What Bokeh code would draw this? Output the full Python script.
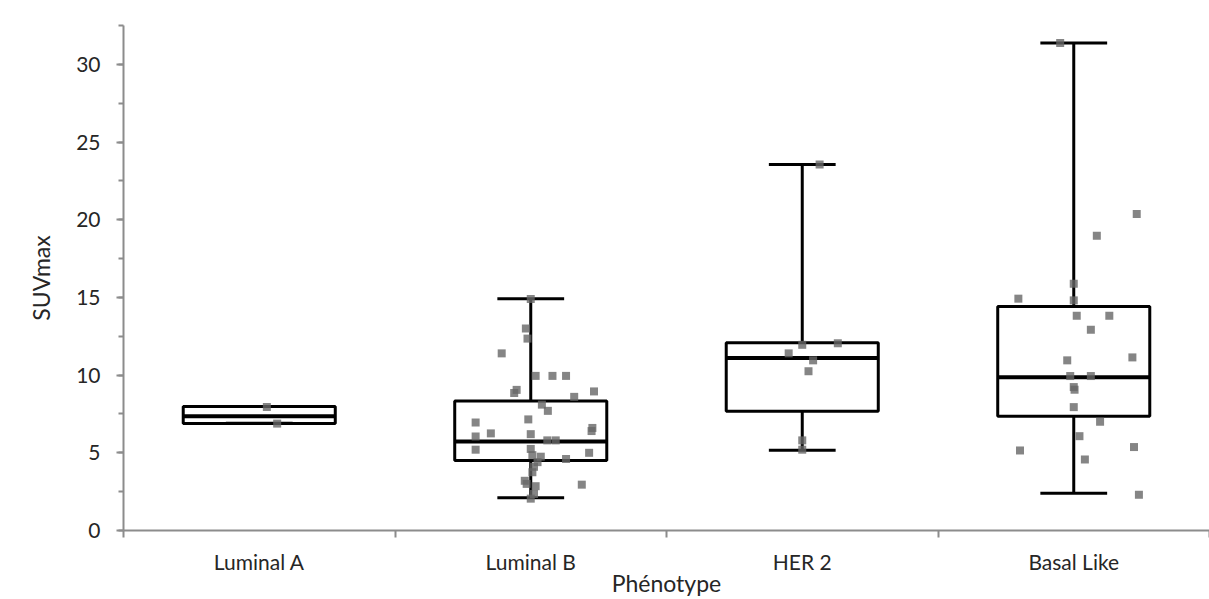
from bokeh.plotting import figure
from bokeh.models import (ColumnDataSource, Range1d, LinearAxis, SingleIntervalTicker,
                          FixedTicker, CustomJSTickFormatter)
from bokeh.transform import dodge
from bokeh.embed import file_html
from bokeh.resources import INLINE

# ---------------- data ----------------
categories = ["Luminal A", "Luminal B", "HER 2", "Basal Like"]
box_min = [6.9, 2.1, 5.17, 2.4]
box_q1 = [6.88, 4.5, 7.68, 7.36]
box_median = [7.35, 5.73, 11.1, 9.87]
box_q3 = [7.98, 8.33, 12.09, 14.42]
box_max = [7.98, 14.92, 23.55, 31.38]

lumA_values = [7.95, 6.88]
lumA_jitter = [0.028, 0.066]

lumB_values = [14.9, 13.0, 12.35, 11.4, 9.95, 9.95, 9.95, 9.05, 8.85, 8.6,
               8.95, 8.1, 7.7, 7.15, 6.95, 6.6, 6.4, 6.25, 6.05, 6.2,
               5.8, 5.8, 5.2, 5.0, 5.25, 4.85, 4.75, 4.6, 4.4, 4.1,
               3.75, 3.2, 3.0, 2.85, 2.95, 2.35, 2.05]
lumB_jitter = [0.0, -0.018, -0.012, -0.107, 0.018, 0.080, 0.130, -0.052, -0.061, 0.160,
               0.233, 0.041, 0.063, -0.009, -0.203, 0.227, 0.224, -0.147, -0.203, 0.0,
               0.061, 0.092, -0.203, 0.215, 0.0, 0.006, 0.037, 0.130, 0.025, 0.012,
               0.006, -0.022, -0.015, 0.018, 0.188, 0.012, 0.0]

her2_values = [23.55, 11.95, 12.05, 11.4, 10.95, 10.25, 5.8, 5.2]
her2_jitter = [0.064, 0.0, 0.131, -0.05, 0.04, 0.023, 0.0, 0.0]

basal_values = [31.38, 20.37, 18.97, 15.88, 14.92, 14.81, 13.82, 13.82, 12.92, 10.95,
                11.14, 9.94, 9.94, 9.23, 9.06, 7.94, 7.0, 6.07, 5.15, 5.37,
                4.57, 2.3]
basal_jitter = [-0.05, 0.232, 0.085, 0.0, -0.204, 0.0, 0.011, 0.131, 0.063, -0.024,
                0.216, -0.013, 0.063, 0.0, 0.003, 0.0, 0.097, 0.021, -0.198, 0.222,
                0.041, 0.24]

y_ticks_interval = 5
y_max = 32.5

# ---------------- styles ----------------
FONT = "Lato"
TEXT = "#262626"
AXIS = "#8c8c8c"
LABEL_SIZE = "21px"
TITLE_SIZE = "23px"
BOX_W = 0.56
CAP_W = 0.246

n = len(categories)
cat_pos = [i + 0.5 for i in range(n)]          # centre of each category slot

p = figure(width=1209, height=599,
           x_range=Range1d(0, n), y_range=Range1d(0, y_max),
           x_axis_location=None, y_axis_location="left",
           toolbar_location=None, output_backend="svg",
           min_border_left=123, min_border_top=25, min_border_right=0,
           min_border_bottom=69)
p.grid.visible = False
p.outline_line_color = None
p.background_fill_color = "white"
p.border_fill_color = "white"

# y axis
ya = p.yaxis[0]
ya.ticker = SingleIntervalTicker(interval=y_ticks_interval, num_minor_ticks=2)
ya.axis_line_color = AXIS
ya.axis_line_width = 2
ya.major_tick_line_color = AXIS
ya.major_tick_line_width = 2
ya.major_tick_out = 7
ya.major_tick_in = 0
ya.minor_tick_line_color = AXIS
ya.minor_tick_line_width = 2
ya.minor_tick_out = 5
ya.minor_tick_in = 0
ya.major_label_text_font = FONT
ya.major_label_text_font_size = LABEL_SIZE
ya.major_label_text_color = TEXT
ya.major_label_standoff = 16
ya.axis_label = "SUVmax"
ya.axis_label_text_font = FONT
ya.axis_label_text_font_size = TITLE_SIZE
ya.axis_label_text_font_style = "normal"
ya.axis_label_text_color = TEXT
ya.axis_label_standoff = 18

# x axis: line + ticks on category boundaries (no labels)
edge_axis = LinearAxis(ticker=FixedTicker(ticks=list(range(n + 1))),
                       formatter=CustomJSTickFormatter(code="return ''"),
                       axis_line_color=AXIS, axis_line_width=2,
                       major_tick_line_color=AXIS, major_tick_line_width=2,
                       major_tick_out=7, major_tick_in=0,
                       minor_tick_line_color=None,
                       major_label_text_font_size="1px", major_label_standoff=0)
p.add_layout(edge_axis, "below")

# x axis: category names at slot centres + title
cat_axis = LinearAxis(ticker=FixedTicker(ticks=cat_pos),
                      formatter=CustomJSTickFormatter(args=dict(labels=categories),
                                                      code="return labels[Math.floor(tick)]"),
                      axis_line_color=None, major_tick_line_color=None,
                      minor_tick_line_color=None,
                      major_tick_out=0, major_tick_in=0,
                      major_label_text_font=FONT, major_label_text_font_size=LABEL_SIZE,
                      major_label_text_color=TEXT, major_label_standoff=11,
                      axis_label="Phénotype", axis_label_text_font=FONT,
                      axis_label_text_font_size=TITLE_SIZE,
                      axis_label_text_font_style="normal",
                      axis_label_text_color=TEXT, axis_label_standoff=-8)
p.add_layout(cat_axis, "below")

# ---------------- boxes ----------------
src = ColumnDataSource(dict(x=cat_pos, lo=box_min, q1=box_q1, med=box_median,
                            q3=box_q3, hi=box_max))
p.vbar(x="x", top="q3", bottom="q1", width=BOX_W, source=src,
       fill_color="white", line_color="black", line_width=3)
p.segment(x0="x", x1="x", y0="q3", y1="hi", source=src,
          line_color="black", line_width=3)
p.segment(x0="x", x1="x", y0="lo", y1="q1", source=src,
          line_color="black", line_width=3)
p.segment(x0=dodge("x", -CAP_W / 2), x1=dodge("x", CAP_W / 2),
          y0="hi", y1="hi", source=src, line_color="black", line_width=3)
p.segment(x0=dodge("x", -CAP_W / 2), x1=dodge("x", CAP_W / 2),
          y0="lo", y1="lo", source=src, line_color="black", line_width=3)
p.segment(x0=dodge("x", -BOX_W / 2), x1=dodge("x", BOX_W / 2),
          y0="med", y1="med", source=src, line_color="black", line_width=4)

# ---------------- points ----------------
groups = [(categories[0], lumA_values, lumA_jitter),
          (categories[1], lumB_values, lumB_jitter),
          (categories[2], her2_values, her2_jitter),
          (categories[3], basal_values, basal_jitter)]
px, py = [], []
for cat, vals, jit in groups:
    base = cat_pos[categories.index(cat)]
    for v, j in zip(vals, jit):
        px.append(base + j)
        py.append(v)
p.scatter(x=px, y=py, marker="square", size=8,
          fill_color="#666666", fill_alpha=0.8, line_color=None)

open("out.html", "w").write(file_html(p, INLINE))
